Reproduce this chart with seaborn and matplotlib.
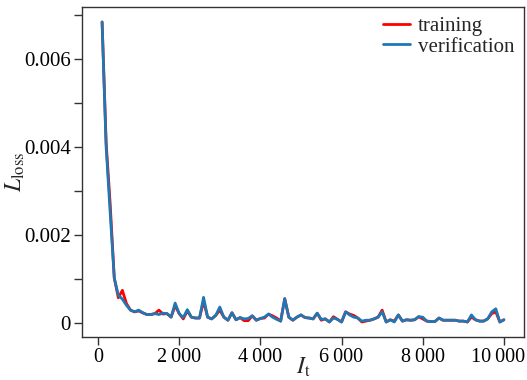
import numpy as np
import pandas as pd
import matplotlib
matplotlib.use("Agg")
import matplotlib.pyplot as plt
import matplotlib.transforms as mtransforms
import seaborn as sns
from matplotlib.ticker import FuncFormatter, MultipleLocator

iterations = list(range(100, 10001, 100))

verification = [
    0.00685, 0.00400, 0.00250, 0.00103, 0.00064, 0.00055, 0.00041, 0.00030, 0.00026, 0.00030,
    0.00024, 0.00020, 0.00020, 0.00022, 0.00020, 0.00023, 0.00022, 0.00014, 0.00046, 0.00022,
    0.00013, 0.00031, 0.00014, 0.00012, 0.00012, 0.00059, 0.00014, 0.00010, 0.00018, 0.00037,
    0.00014, 0.00007, 0.00024, 0.00008, 0.00013, 0.00010, 0.00011, 0.00017, 0.00007, 0.00011,
    0.00014, 0.00021, 0.00014, 0.00009, 0.00005, 0.00056, 0.00014, 0.00007, 0.00014, 0.00019,
    0.00013, 0.00012, 0.00010, 0.00023, 0.00009, 0.00010, 0.00003, 0.00012, 0.00009, 0.00003,
    0.00026, 0.00019, 0.00014, 0.00012, 0.00005, 0.00007, 0.00007, 0.00010, 0.00014, 0.00026,
    0.00003, 0.00008, 0.00003, 0.00019, 0.00005, 0.00008, 0.00007, 0.00008, 0.00015, 0.00014,
    0.00005, 0.00004, 0.00004, 0.00012, 0.00007, 0.00007, 0.00007, 0.00007, 0.00005, 0.00005,
    0.00003, 0.00019, 0.00008, 0.00005, 0.00005, 0.00010, 0.00026, 0.00033, 0.00003, 0.00008,
]

training = [
    0.00685, 0.00410, 0.00270, 0.00103, 0.00058, 0.00075, 0.00045, 0.00030, 0.00026, 0.00028,
    0.00024, 0.00020, 0.00020, 0.00022, 0.00030, 0.00021, 0.00022, 0.00014, 0.00040, 0.00022,
    0.00010, 0.00028, 0.00014, 0.00012, 0.00012, 0.00050, 0.00014, 0.00010, 0.00018, 0.00030,
    0.00014, 0.00007, 0.00024, 0.00008, 0.00013, 0.00006, 0.00006, 0.00017, 0.00007, 0.00011,
    0.00012, 0.00021, 0.00017, 0.00012, 0.00005, 0.00056, 0.00014, 0.00007, 0.00014, 0.00019,
    0.00013, 0.00012, 0.00010, 0.00023, 0.00007, 0.00010, 0.00003, 0.00015, 0.00009, 0.00003,
    0.00026, 0.00021, 0.00018, 0.00012, 0.00003, 0.00005, 0.00007, 0.00010, 0.00014, 0.00030,
    0.00003, 0.00008, 0.00005, 0.00019, 0.00005, 0.00008, 0.00007, 0.00008, 0.00015, 0.00010,
    0.00005, 0.00004, 0.00004, 0.00012, 0.00007, 0.00007, 0.00007, 0.00007, 0.00005, 0.00005,
    0.00003, 0.00014, 0.00008, 0.00005, 0.00005, 0.00010, 0.00022, 0.00026, 0.00003, 0.00008,
]

series_names = ["training", "verification"]
series_colors = {"training": "#ff0000", "verification": "#1f77b4"}

df = pd.DataFrame({
    "iter": iterations * 2,
    "loss": training + verification,
    "set": ["training"] * len(training) + ["verification"] * len(verification),
})

sns.set_theme(style="ticks")
plt.rcParams["font.family"] = ["Liberation Serif", "DejaVu Serif"]
plt.rcParams["mathtext.fontset"] = "stix"
plt.rcParams["axes.edgecolor"] = "#333333"
plt.rcParams["xtick.color"] = "#333333"
plt.rcParams["ytick.color"] = "#333333"
plt.rcParams["xtick.labelcolor"] = "black"
plt.rcParams["ytick.labelcolor"] = "black"

fig = plt.figure(figsize=(5.27, 3.8), dpi=100)
ax = fig.add_axes([0.1556, 0.1132, 0.8387, 0.8684])

sns.lineplot(data=df, x="iter", y="loss", hue="set", hue_order=series_names,
             palette=series_colors, linewidth=2, ax=ax)

ax.yaxis.set_major_locator(MultipleLocator(0.002))
ax.yaxis.set_minor_locator(MultipleLocator(0.001))
ax.xaxis.set_major_locator(MultipleLocator(2000))
ax.yaxis.set_major_formatter(FuncFormatter(lambda v, p: "0" if abs(v) < 1e-12 else f"{v:.3f}"))
ax.xaxis.set_major_formatter(FuncFormatter(lambda v, p: f"{int(round(v)):,}".replace(",", "\u2009")))
ax.tick_params(axis="both", which="both", length=6, width=1, labelsize=15, pad=2)
ax.tick_params(axis="x", labelsize=14.5)
for s in ax.spines.values():
    s.set_linewidth(1)

ax.set_xlabel(r"$I_\mathrm{t}$", fontsize=17, labelpad=-8)
ax.set_ylabel(r"$L_\mathrm{loss}$", fontsize=17, labelpad=-2)

handles, labels = ax.get_legend_handles_labels()
ax.legend(handles, labels, loc="upper right", frameon=False, fontsize=15,
          handlelength=1.3, handletextpad=0.4, labelspacing=0.05,
          borderaxespad=0.1, borderpad=0.35)

# keep the rightmost tick label inside the figure
fig.canvas.draw()
renderer = fig.canvas.get_renderer()
fig_w = fig.bbox.width
for lab in ax.get_xticklabels():
    if not lab.get_text():
        continue
    ext = lab.get_window_extent(renderer)
    over = ext.x1 - (fig_w - 2)
    if over > 0:
        lab.set_transform(lab.get_transform() +
                          mtransforms.ScaledTranslation(-over / fig.dpi, 0, fig.dpi_scale_trans))

fig.savefig("out.png", dpi=100)
